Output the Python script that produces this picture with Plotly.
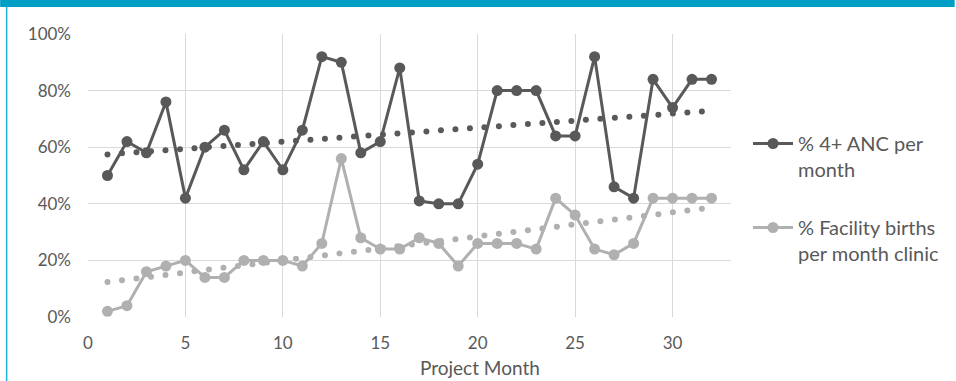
import numpy as np
import plotly.graph_objects as go

# Monthly project data (percent)
months = list(range(1, 33))
anc_4plus = [50, 62, 58, 76, 42, 60, 66, 52, 62, 52,
             66, 92, 90, 58, 62, 88, 41, 40, 40, 54,
             80, 80, 80, 64, 64, 92, 46, 42, 84, 74,
             84, 84]
facility_births = [2, 4, 16, 18, 20, 14, 14, 20, 20, 20,
                   18, 26, 56, 28, 24, 24, 28, 26, 18, 26,
                   26, 26, 24, 42, 36, 24, 22, 26, 42, 42,
                   42, 42]
series_names = ["% 4+ ANC per<br>month", "% Facility births<br>per month clinic"]
x_ticks = [0, 5, 10, 15, 20, 25, 30]
y_ticks = [0, 20, 40, 60, 80, 100]
y_tick_text = [f"{v}%" for v in y_ticks]

DARK = "#595959"
LIGHT = "#B0B0B0"
TEXT = "#595959"
FONT = "Lato, Carlito, Calibri, sans-serif"

W, H = 956, 381
ML, MR, MT, MB = 88, 224, 34, 64
PW, PH = W - ML - MR, H - MT - MB


def px_x(px):
    return (px - ML) / PW


def px_y(py):
    return (H - MB - py) / PH


fig = go.Figure()

# Linear trend lines, drawn as rows of round dots
dot_step = 0.744
dot_x = np.arange(months[0], months[-1], dot_step)
for vals, color in ((anc_4plus, DARK), (facility_births, LIGHT)):
    slope, intercept = np.polyfit(months, vals, 1)
    fig.add_trace(go.Scatter(
        x=dot_x, y=slope * dot_x + intercept, mode="markers",
        marker=dict(size=6, color=color), showlegend=False, hoverinfo="skip"))

for i, (vals, color, name) in enumerate(((anc_4plus, DARK, series_names[0]),
                                         (facility_births, LIGHT, series_names[1]))):
    fig.add_trace(go.Scatter(
        x=months, y=vals, mode="lines+markers", name=name,
        legendgroup=f"g{i}",
        line=dict(color=color, width=3),
        marker=dict(size=11, color=color)))

fig.update_xaxes(range=[0, 33], tickvals=x_ticks, showgrid=True,
                 gridcolor="#D9D9D9", gridwidth=1.3, zeroline=False,
                 showline=False, ticks="", ticklabelstandoff=14,
                 tickfont=dict(size=17, color=TEXT, family=FONT))
fig.update_yaxes(range=[0, 100], tickvals=y_ticks, ticktext=y_tick_text,
                 showgrid=True, gridcolor="#D9D9D9", gridwidth=1.3,
                 zeroline=False, showline=False, ticks="",
                 ticklabelstandoff=16,
                 tickfont=dict(size=17, color=TEXT, family=FONT))

fig.add_annotation(text="Project Month", xref="paper", yref="paper",
                   x=px_x(481), y=px_y(367), showarrow=False,
                   xanchor="center", yanchor="middle",
                   font=dict(size=19, color=TEXT, family=FONT))

# Frame accents: top band and left edge line
fig.add_shape(type="rect", xref="paper", yref="paper", layer="above",
              x0=px_x(0), x1=px_x(W), y0=px_y(7), y1=px_y(0),
              fillcolor="#009FC6", line_width=0)
fig.add_shape(type="line", xref="paper", yref="paper", layer="above",
              x0=px_x(6.5), x1=px_x(6.5), y0=px_y(7), y1=px_y(H),
              line=dict(color="#1AB4DA", width=1.5))

fig.update_layout(
    width=W, height=H,
    margin=dict(l=ML, r=MR, t=MT, b=MB),
    paper_bgcolor="white", plot_bgcolor="white",
    font=dict(family=FONT, color=TEXT),
    legend=dict(x=px_x(748), y=px_y(124), xanchor="left", yanchor="top",
                font=dict(size=20, color=TEXT, family=FONT),
                valign="top", tracegroupgap=29, itemwidth=40,
                bgcolor="rgba(0,0,0,0)"),
)

fig.write_html("out.html")
